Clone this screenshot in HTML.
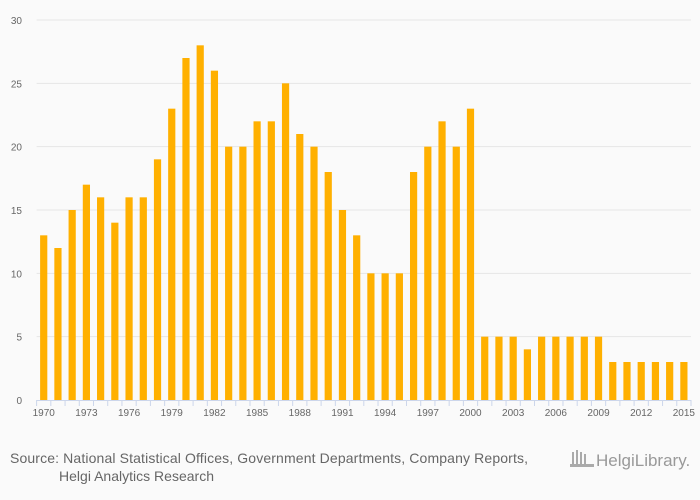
<!DOCTYPE html>
<html><head><meta charset="utf-8"><style>
body{margin:0;background:#fafafa;font-family:"Liberation Sans",sans-serif;}
svg{display:block}
</style></head><body>
<svg width="700" height="500">
<rect width="700" height="500" fill="#fafafa"/>
<g id="grid"></g><g id="bars"></g><g id="axis"></g>
<text x="10" y="463" font-size="14" fill="#666" textLength="518">Source: National Statistical Offices, Government Departments, Company Reports,</text>
<text x="59" y="481" font-size="14" fill="#666" textLength="155">Helgi Analytics Research</text>
<text x="596" y="466" font-size="17" fill="#999">HelgiLibrary.</text>
<g fill="#aaa"><rect x="572" y="452" width="2" height="14"/><rect x="576" y="450" width="2" height="16"/><rect x="580" y="452" width="2" height="14"/><rect x="584" y="454" width="2" height="12"/><rect x="570" y="464" width="24" height="3"/></g>
</svg>
<script>
const years=[];for(let y=1970;y<=2015;y++)years.push(y);
const values=[13,12,15,17,16,14,16,16,19,23,27,28,26,20,20,22,22,25,21,20,18,15,13,10,10,10,18,20,22,20,23,5,5,5,4,5,5,5,5,5,3,3,3,3,3,3];
const yTicks=[0,5,10,15,20,25,30];
const NS='http://www.w3.org/2000/svg';
const x0=36.6,x1=691,cw=(x1-x0)/values.length;
const yS=v=>400-v*(380/30);
const xS=i=>x0+cw*i+cw/2;
function mk(t,a,p){const e=document.createElementNS(NS,t);for(const k in a)e.setAttribute(k,a[k]);p.appendChild(e);return e;}
const g=document.getElementById('grid'),b=document.getElementById('bars'),ax=document.getElementById('axis');
yTicks.forEach(t=>{
 if(t>0){const l=mk('line',{x1:x0,x2:x1,y1:yS(t),y2:yS(t),stroke:'#e6e6e6'},g);
 
 }
 const tx=mk('text',{x:22,y:yS(t)+4,'font-size':10,fill:'#666','text-anchor':'end'},g);tx.textContent=t;
 
 
});
values.forEach((v,i)=>{
 const r=mk('rect',{x:xS(i)-3.6,y:yS(v),width:7.2,height:400-yS(v),fill:'#ffb000'},b);
 
 
});
const al=mk('line',{x1:x0,x2:x1,y1:400.5,y2:400.5,stroke:'#ccd6eb'},ax);


for(let i=0;i<=values.length;i++){const t=mk('line',{x1:x0+cw*i,x2:x0+cw*i,y1:400,y2:406,stroke:'#ccd6eb'},ax);
 
 }
years.forEach((y,i)=>{if(i%3)return;
 const t=mk('text',{x:xS(i),y:416,'font-size':10,fill:'#666','text-anchor':'middle'},ax);t.textContent=y;
 
 
});
</script>
</body></html>
